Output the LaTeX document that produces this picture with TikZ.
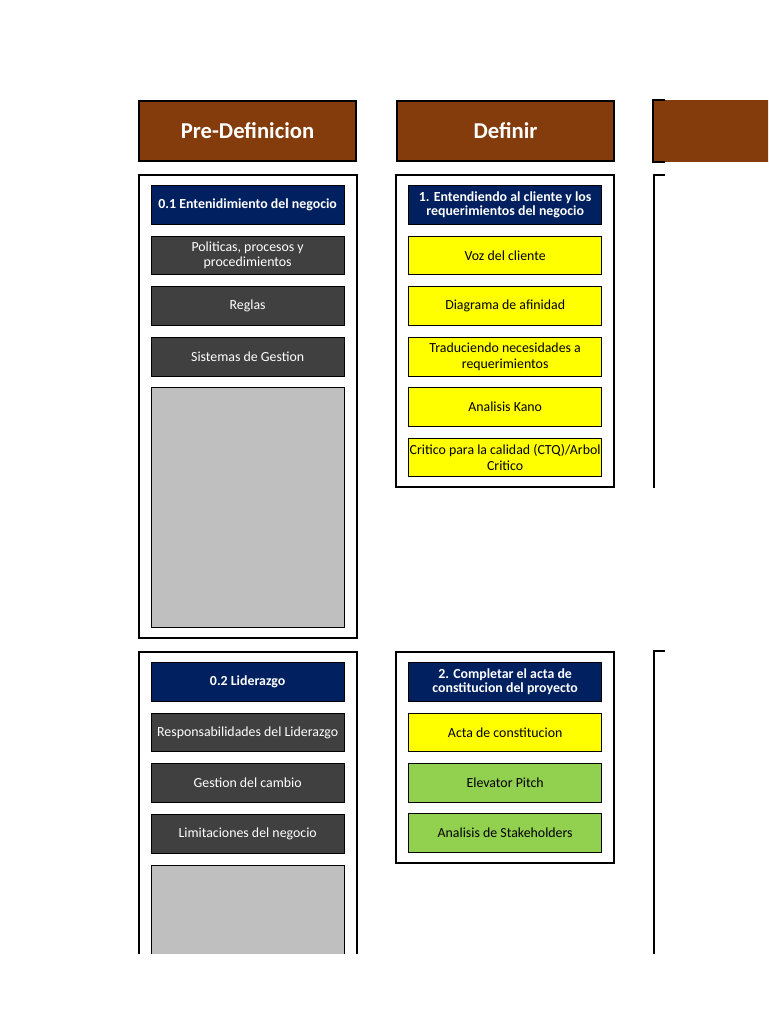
\documentclass[tikz,border=0pt]{standalone}
\usepackage{fontspec}
\setmainfont{Carlito}
\usetikzlibrary{positioning, fit}
\definecolor{brownhd}{HTML}{843C0C}
\definecolor{navytp}{HTML}{002060}
\definecolor{darkit}{HTML}{404040}
\definecolor{lightit}{HTML}{BFBFBF}
\definecolor{yellowit}{HTML}{FFFF00}
\definecolor{greenit}{HTML}{92D050}
\tikzset{header/.style={draw, line width=1.5pt, fill=brownhd, text=white, font=\fontsize{17}{20}\selectfont\bfseries, minimum width=162.75pt, minimum height=45pt, inner sep=0pt},
panel/.style={draw, line width=1.5pt, inner xsep=9pt, inner ysep=7.5pt},
item/.style={draw, line width=0.75pt, align=center, font=\fontsize{10.4}{11.5}\selectfont, minimum width=145pt, minimum height=29pt, inner sep=1pt},
topic/.style={item, fill=navytp, text=white, font=\fontsize{10.4}{11}\selectfont\bfseries},
dark/.style={item, fill=darkit, text=white},
yel/.style={item, fill=yellowit},
grn/.style={item, fill=greenit},
blank/.style={item, fill=lightit, minimum height=180pt},
cut/.style={line width=1.5pt}}
\begin{document}
\begin{tikzpicture}[x=0.75pt, y=-0.75pt]
  \useasboundingbox (0,0) rectangle (768,1024);
  \begin{scope}
  \clip (0,0) rectangle (768,953);
  % Encabezados
  \node[header, anchor=north west] (hpre) at (138,100) {Pre-Definicion};
  \node[header, anchor=north west] (hdef) at (396,100) {Definir};
  \fill[brownhd] (653,100) rectangle (770,162);
  \coordinate (hnext) at (653,100);
  \draw[cut] ([xshift=9pt]hnext) -- (hnext) -- ++(0,62) -- ++(12,0);
  % Pre-Definicion, bloque 0.1
  \node[topic, anchor=north west] (t01) at (150.5,185) {0.1 Entenidimiento del negocio};
  \node[dark, below=8.25pt of t01] (pol) {Politicas, procesos y\\procedimientos};
  \node[dark, below=8.25pt of pol] (reg) {Reglas};
  \node[dark, below=8.25pt of reg] (sis) {Sistemas de Gestion};
  \node[blank, below=7.75pt of sis] (bl1) {};
  \node[panel, fit=(t01)(bl1)] (p01) {};
  % Pre-Definicion, bloque 0.2
  \node[topic, anchor=north west] (t02) at (150.5,662) {0.2 Liderazgo};
  \node[dark, below=8.25pt of t02] (resp) {Responsabilidades del Liderazgo};
  \node[dark, below=8.25pt of resp] (gest) {Gestion del cambio};
  \node[dark, below=8.25pt of gest] (lim) {Limitaciones del negocio};
  \node[blank, below=8.25pt of lim] (bl2) {};
  \node[panel, fit=(t02)(bl2)] (p02) {};
  % Definir, bloque 1
  \node[topic, anchor=north west] (t1) at (408,185) {1. Entendiendo al cliente y los\\requerimientos del negocio};
  \node[yel, below=8.25pt of t1] (voz) {Voz del cliente};
  \node[yel, below=8.25pt of voz] (afi) {Diagrama de afinidad};
  \node[yel, below=8.25pt of afi] (trad) {Traduciendo necesidades a\\requerimientos};
  \node[yel, below=8pt of trad] (kano) {Analisis Kano};
  \node[yel, below=8pt of kano] (ctq) {Critico para la calidad (CTQ)/Arbol\\Critico};
  \node[panel, fit=(t1)(ctq)] (p1) {};
  % Definir, bloque 2
  \node[topic, anchor=north west] (t2) at (408,662) {2. Completar el acta de\\constitucion del proyecto};
  \node[yel, below=8.25pt of t2] (acta) {Acta de constitucion};
  \node[grn, below=8pt of acta] (elev) {Elevator Pitch};
  \node[grn, below=8pt of elev] (stake) {Analisis de Stakeholders};
  \node[panel, fit=(t2)(stake)] (p2) {};
  % Siguiente columna (cortada)
  \coordinate (c3a) at (654,175);
  \coordinate (c3b) at (654,651);
  \draw[cut] ([xshift=8pt]c3a) -- (c3a) -- (654,488);
  \draw[cut] ([xshift=8pt]c3b) -- (c3b) -- (654,960);
  \end{scope}
\end{tikzpicture}
\end{document}
